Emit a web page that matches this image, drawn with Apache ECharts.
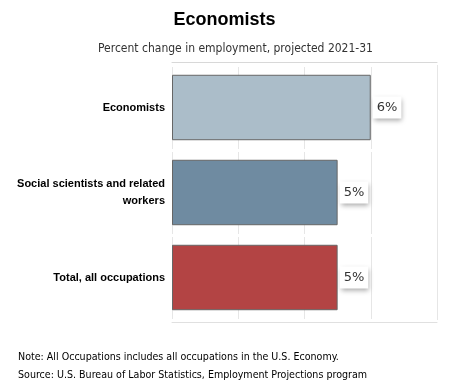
<!DOCTYPE html>
<html><head><meta charset="utf-8">
<script src="https://cdn.jsdelivr.net/npm/echarts@6/dist/echarts.min.js"></script>
<style>html,body{margin:0;padding:0;background:#fff}#c{width:449px;height:384px}</style>
</head><body><div id="c"></div>
<script>
const categories = ['Economists', 'Social scientists and related\nworkers', 'Total, all occupations'];
const values = [6, 5, 5];
const barColors = ['#abbdc9', '#6f8ba1', '#b34444'];
const xTicks = [0, 2, 4, 6, 8];

const chart = echarts.init(document.getElementById('c'));
chart.setOption({
  animation: false,
  title: [
    {text: 'Economists', left: 'center', top: 6, textStyle: {fontFamily: 'Liberation Sans', fontSize: 18, fontWeight: 'bold', color: '#000'}},
    {text: 'Percent change in employment, projected 2021-31', left: 93, top: 38, textStyle: {fontFamily: 'DejaVu Sans Condensed, DejaVu Sans', fontSize: 12, fontWeight: 'normal', color: '#333'}}
  ],
  graphic: [
    {type: 'text', left: 18, top: 352, style: {text: 'Note: All Occupations includes all occupations in the U.S. Economy.', font: '10.6px "DejaVu Sans Condensed", "DejaVu Sans"', fill: '#000'}},
    {type: 'text', left: 18, top: 370, style: {text: 'Source: U.S. Bureau of Labor Statistics, Employment Projections program', font: '10.6px "DejaVu Sans Condensed", "DejaVu Sans"', fill: '#000'}}
  ],
  grid: {left: 172, right: 12, top: 65, bottom: 64},
  xAxis: [{
    type: 'value', offset: 2, min: xTicks[0], max: xTicks[xTicks.length - 1], interval: 2,
    axisLabel: {show: false}, axisTick: {show: false},
    axisLine: {show: true, lineStyle: {color: '#e0e0e0'}},
    splitLine: {show: true, lineStyle: {color: '#e6e6e6'}}
  }, {
    type: 'value', position: 'top', offset: 3, min: xTicks[0], max: xTicks[xTicks.length - 1], interval: 2,
    axisLabel: {show: false}, axisTick: {show: false},
    axisLine: {show: true, lineStyle: {color: '#d8d8d8'}},
    splitLine: {show: false}
  }],
  yAxis: {
    type: 'category', data: categories, inverse: true, z: 1,
    axisLine: {show: false}, axisTick: {show: false},
    splitLine: {show: true, lineStyle: {color: '#fff', width: 3}},
    axisLabel: {margin: 7, fontFamily: 'Liberation Sans', fontSize: 11, fontWeight: 'bold', color: '#000', lineHeight: 17, align: 'right'}
  },
  series: [{
    type: 'bar', data: values.map((v, i) => ({value: v, itemStyle: {color: barColors[i]}})),
    barCategoryGap: '23%', z: 3,
    itemStyle: {borderColor: '#666', borderWidth: 1},
    label: {
      show: true, position: 'right', distance: 2, formatter: '{c}%',
      fontFamily: 'DejaVu Sans', fontSize: 13, color: '#333',
      backgroundColor: '#fff', padding: [5, 4, 4, 4],
      shadowBlur: 5, shadowColor: 'rgba(0,0,0,0.35)', shadowOffsetX: 1, shadowOffsetY: 2
    }
  }]
});
</script></body></html>
